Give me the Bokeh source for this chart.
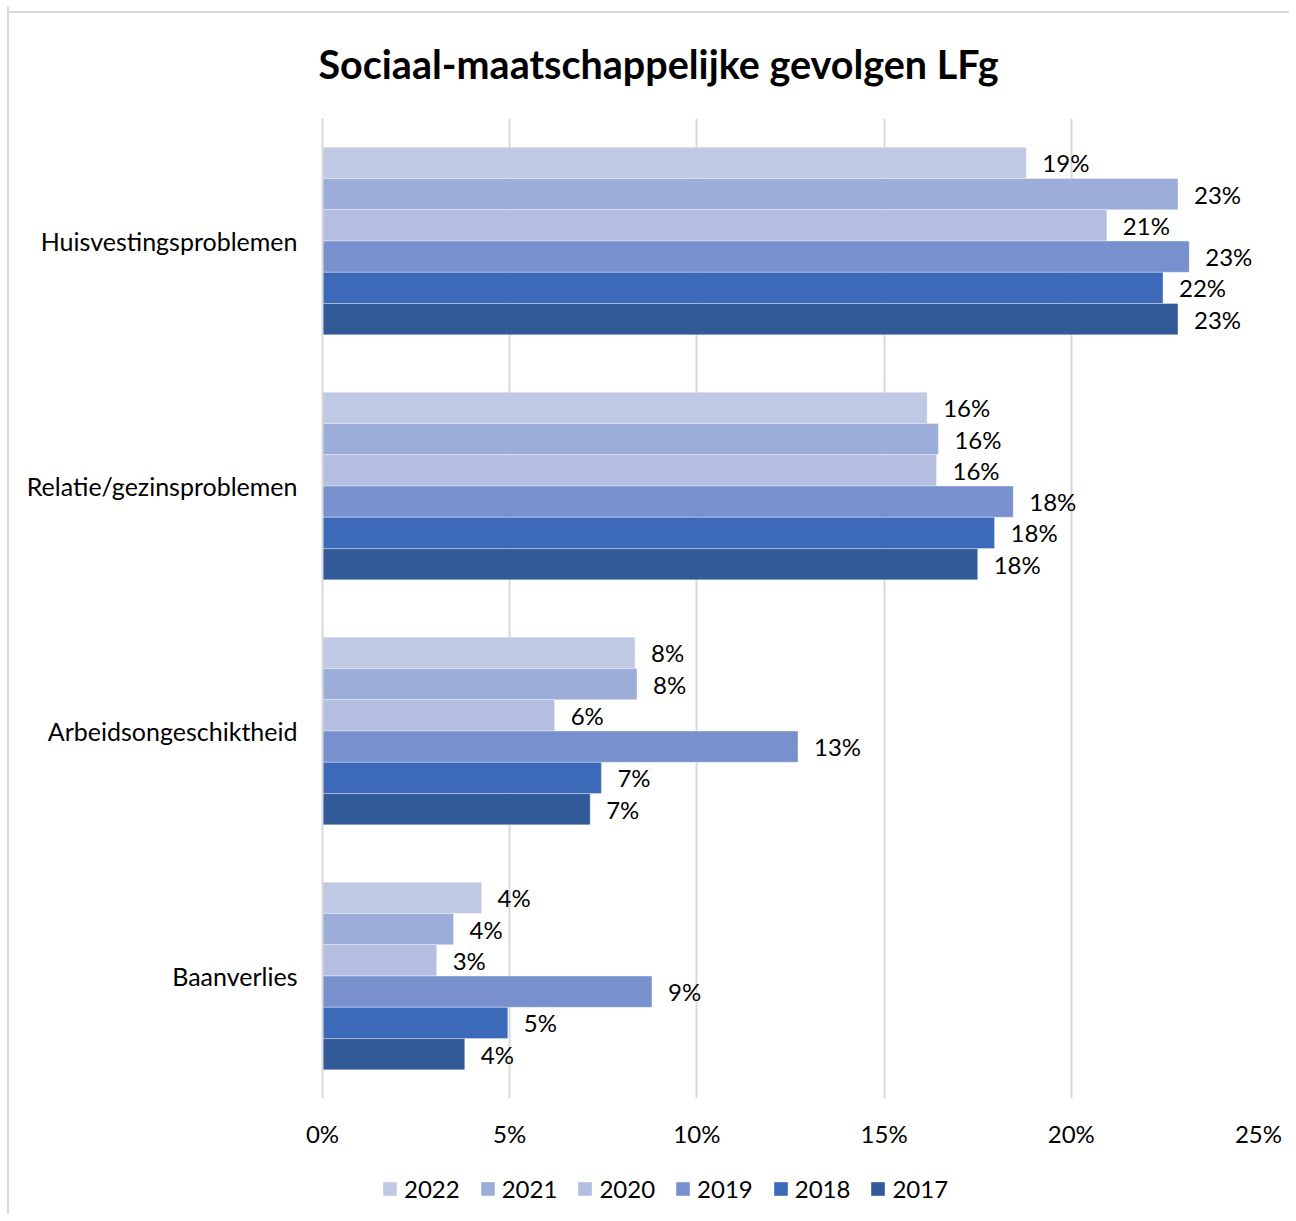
from bokeh.plotting import figure
from bokeh.layouts import column
from bokeh.models import FactorRange, ColumnDataSource, Legend, LegendItem, FixedTicker
from bokeh.transform import dodge
from bokeh.embed import file_html
from bokeh.resources import INLINE
from bokeh.core.properties import value

title = "Sociaal-maatschappelijke gevolgen LFg"
categories = ["Huisvestingsproblemen", "Relatie/gezinsproblemen",
              "Arbeidsongeschiktheid", "Baanverlies"]
years = ["2022", "2021", "2020", "2019", "2018", "2017"]
v2022 = [18.8, 16.15, 8.35, 4.25]
v2021 = [22.85, 16.45, 8.4, 3.5]
v2020 = [20.95, 16.4, 6.2, 3.05]
v2019 = [23.15, 18.45, 12.7, 8.8]
v2018 = [22.45, 17.95, 7.45, 4.95]
v2017 = [22.85, 17.5, 7.15, 3.8]
series = [v2022, v2021, v2020, v2019, v2018, v2017]
colors = ["#BFC9E4", "#9DADD9", "#B3BEE0", "#7891CE", "#3D6AB8", "#325A98"]
x_ticks = [0, 5, 10, 15, 20, 25]
x_tick_labels = ["0%", "5%", "10%", "15%", "20%", "25%"]

FONT = "Lato"
FS = "24px"
bar_h = 0.1277

# ---- main chart ----
p = figure(width=1280, height=1152,
           y_range=FactorRange(*reversed(categories)), x_range=(0, 25),
           output_backend="svg", toolbar_location=None,
           min_border_left=313, min_border_right=31,
           min_border_top=112, min_border_bottom=60)

p.title.text = title
p.title.align = "left"
p.title.offset = -4
p.title.text_font = FONT
p.title.text_font_style = "bold"
p.title.text_font_size = "39.5px"
p.title.text_color = "black"
p.title.standoff = 63

p.outline_line_color = None
p.background_fill_color = "white"
p.border_fill_alpha = 0

p.xgrid.ticker = FixedTicker(ticks=x_ticks)
p.xgrid.grid_line_color = "#d9d9d9"
p.xgrid.grid_line_width = 2
p.ygrid.grid_line_color = None

p.xaxis.ticker = FixedTicker(ticks=x_ticks)
p.xaxis.major_label_overrides = {t: l for t, l in zip(x_ticks, x_tick_labels)}
for ax in (p.xaxis[0], p.yaxis[0]):
    ax.axis_line_color = None
    ax.major_tick_line_color = None
    ax.minor_tick_line_color = None
    ax.major_tick_out = 0
    ax.major_tick_in = 0
    ax.major_label_text_font = FONT
    ax.major_label_text_color = "black"
p.yaxis.axis_line_color = "#d9d9d9"
p.yaxis.axis_line_width = 2
p.xaxis.major_label_text_font_size = FS
p.yaxis.major_label_text_font_size = "25px"
p.xaxis.major_label_standoff = 20
p.yaxis.major_label_standoff = 25

for i, (yr, vals, col) in enumerate(zip(years, series, colors)):
    off = (2.5 - i) * bar_h
    src = ColumnDataSource(dict(cat=categories, val=vals,
                                lab=[f"{int(v + 0.5)}%" for v in vals]))
    p.hbar(y=dodge("cat", off, range=p.y_range), left=0, right="val",
           height=bar_h, fill_color=col, line_color="white",
           line_alpha=0.35, line_width=1, source=src)
    p.text(x="val", y=dodge("cat", off, range=p.y_range), text="lab",
           x_offset=16, text_align="left", text_baseline="middle",
           text_font=value(FONT), text_font_size=value(FS),
           text_color="black", source=src)

# ---- legend strip (frame is aligned with the main chart's frame) ----
lp = figure(width=1280, height=56, x_range=(0, 1), y_range=(0, 1),
            output_backend="svg", toolbar_location=None,
            min_border=0, x_axis_type=None, y_axis_type=None)
lp.outline_line_color = None
lp.grid.visible = False
lp.border_fill_alpha = 0
lp.background_fill_alpha = 0
items = []
for yr, col in zip(years, colors):
    # zero-width proxy bar, only used for its legend swatch
    r = lp.hbar(y=[0.5], left=[0], right=[0], height=0.1, fill_color=col,
                line_color=None)
    items.append(LegendItem(label=yr, renderers=[r]))
legend = Legend(items=items, orientation="horizontal", location=(59, 11),
                glyph_width=17, glyph_height=17, label_standoff=6, spacing=19,
                padding=0, margin=0, border_line_color=None,
                background_fill_alpha=0, label_text_font=FONT,
                label_text_font_size=FS, label_text_color="black")
lp.add_layout(legend)

layout = column(p, lp, spacing=0)
layout.margin = (6, 0, 0, 7)
layout.styles = {
    "border-left": "2px solid #d9d9d9",
    "background": "linear-gradient(#d9d9d9, #d9d9d9) 0px 5px / 100% 2px no-repeat, white",
}

open("out.html", "w").write(file_html(layout, INLINE))
